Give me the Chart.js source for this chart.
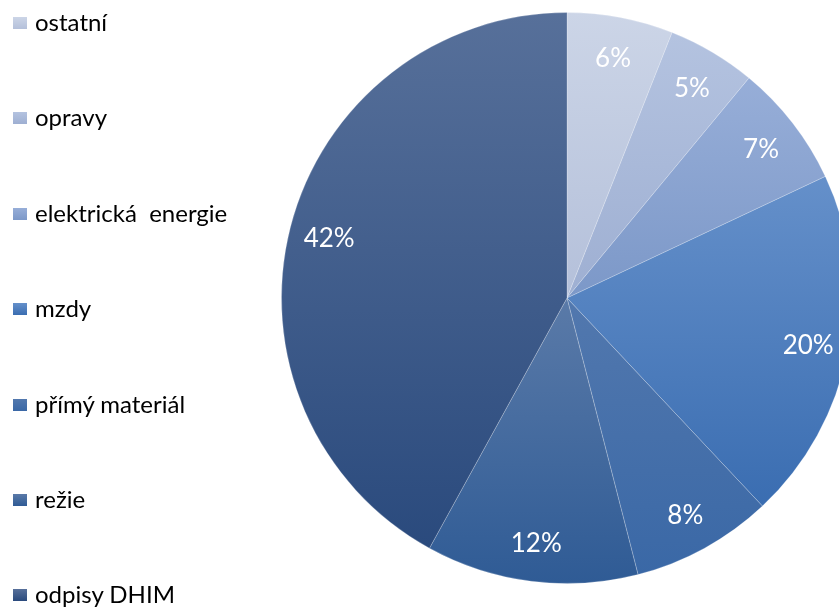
<!DOCTYPE html>
<html>
<head>
<meta charset="utf-8">
<script src="https://cdn.jsdelivr.net/npm/chart.js@4.4.1/dist/chart.umd.min.js"></script>
<style>
  html, body { margin: 0; padding: 0; background: #fff; }
  #stage { position: relative; width: 839px; height: 610px; overflow: hidden; }
  #wrap { position: absolute; left: 0; top: 0; width: 880px; height: 610px; }
  #legenda { position: absolute; left: 0; top: 0; width: 270px; height: 610px; font-family: Lato, sans-serif; font-size: 24px; color: #000; }
  .item { position: absolute; left: 13px; height: 30px; white-space: pre; }
  .box { position: absolute; left: 0; top: 9px; width: 14px; height: 12px; }
  .txt { position: absolute; left: 22px; top: -1px; line-height: 30px; }
</style>
</head>
<body>
<div id="stage">
  <div id="wrap"><canvas id="graf"></canvas></div>
  <div id="legenda"></div>
</div>
<script>
// data z grafu (podíl nákladů v %)
const polozky = ["ostatní", "opravy", "elektrická  energie", "mzdy", "přímý materiál", "režie", "odpisy DHIM"];
const podily = [6, 5, 7, 20, 8, 12, 42];

// barvy: horní a dolní konec přechodu
const barvyNahore = ["#ccd5e7", "#b4c3e0", "#97aed8", "#6590ca", "#5278ae", "#5a7aa8", "#57709a"];
const barvyDole = ["#b4c0da", "#9eafd2", "#7c98c8", "#3a6db1", "#3a68a6", "#2f5b95", "#2a4a7d"];

const soucet = podily.reduce((a, b) => a + b, 0);

// přechod pro jednu výseč podle její výšky
function prechod(c) {
  const chart = c.chart;
  const area = chart.chartArea;
  const i = c.dataIndex;
  if (!area) return barvyNahore[i];
  const cx = (area.left + area.right) / 2;
  const cy = (area.top + area.bottom) / 2;
  const r = Math.min(area.width, area.height) / 2;
  let pred = 0;
  for (let k = 0; k < i; k++) pred += podily[k];
  const a0 = -Math.PI / 2 + (pred / soucet) * Math.PI * 2;
  const a1 = a0 + (podily[i] / soucet) * Math.PI * 2;
  let ymin = cy, ymax = cy;
  for (let s = 0; s <= 60; s++) {
    const a = a0 + (a1 - a0) * s / 60;
    const y = cy + Math.sin(a) * r;
    ymin = Math.min(ymin, y);
    ymax = Math.max(ymax, y);
  }
  const g = chart.ctx.createLinearGradient(0, ymin, 0, ymax);
  g.addColorStop(0, barvyNahore[i]);
  g.addColorStop(1, barvyDole[i]);
  return g;
}

// popisky procent uvnitř výsečí
const popisky = {
  id: "popisky",
  afterDatasetsDraw(chart) {
    const ctx = chart.ctx;
    const meta = chart.getDatasetMeta(0);
    ctx.save();
    ctx.fillStyle = "#ffffff";
    ctx.font = "26px Lato, sans-serif";
    ctx.textAlign = "center";
    ctx.textBaseline = "middle";
    meta.data.forEach((el, i) => {
      const p = el.getProps(["x", "y", "startAngle", "endAngle", "outerRadius"], true);
      const mid = (p.startAngle + p.endAngle) / 2;
      const rr = p.outerRadius * 0.86;
      const proc = Math.round(podily[i] / soucet * 100) + "%";
      ctx.fillText(proc, p.x + Math.cos(mid) * rr, p.y + Math.sin(mid) * rr + 2);
    });
    ctx.restore();
  }
};

document.addEventListener("DOMContentLoaded", function () {
  // legenda vlevo
  const leg = document.getElementById("legenda");
  polozky.forEach((nazev, i) => {
    const it = document.createElement("div");
    it.className = "item";
    it.style.top = (8 + i * 95.4) + "px";
    const box = document.createElement("span");
    box.className = "box";
    box.style.background = "linear-gradient(" + barvyNahore[i] + "," + barvyDole[i] + ")";
    const txt = document.createElement("span");
    txt.className = "txt";
    txt.textContent = nazev;
    it.appendChild(box);
    it.appendChild(txt);
    leg.appendChild(it);
  });

  new Chart(document.getElementById("graf"), {
    type: "pie",
    data: {
      labels: polozky,
      datasets: [
        {
          data: podily,
          backgroundColor: prechod,
          borderColor: "rgba(255,255,255,0.22)",
          borderWidth: 1,
        },
      ],
    },
    options: {
      responsive: true,
      maintainAspectRatio: false,
      animation: false,
      layout: { padding: { left: 281, right: 27, top: 12, bottom: 26 } },
      plugins: {
        legend: { display: false },
        tooltip: { enabled: false },
      },
    },
    plugins: [popisky],
  });
});
</script>
</body>
</html>
